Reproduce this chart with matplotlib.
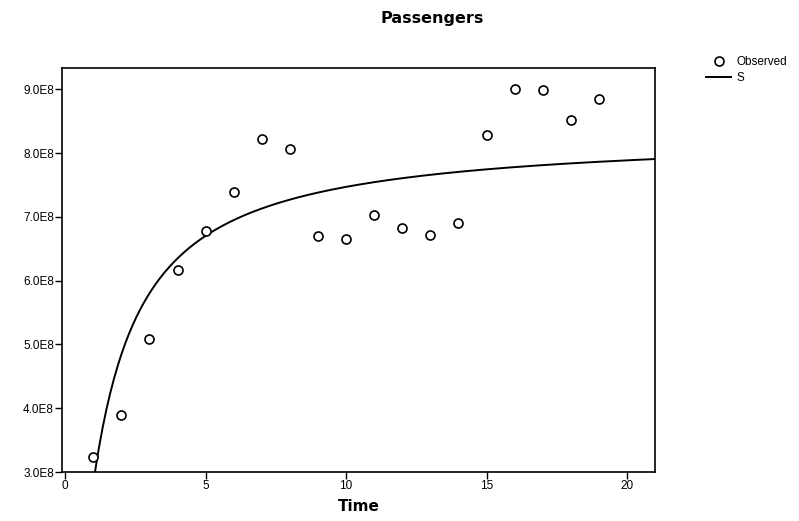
import numpy as np
import matplotlib.pyplot as plt
from matplotlib.ticker import FuncFormatter

plt.rcParams['font.family'] = ['Liberation Sans', 'DejaVu Sans']

# observed passengers per year (Time = 1..19)
time = [1, 2, 3, 4, 5, 6, 7, 8, 9, 10, 11, 12, 13, 14, 15, 16, 17, 18, 19]
passengers = [3.23e8, 3.90e8, 5.08e8, 6.16e8, 6.78e8, 7.39e8, 8.22e8, 8.06e8,
              6.70e8, 6.66e8, 7.03e8, 6.83e8, 6.71e8, 6.91e8, 8.28e8, 9.01e8,
              8.99e8, 8.52e8, 8.85e8]

# S model fit: ln(y) = b0 + b1 / t
t = np.array(time, dtype=float)
b1, b0 = np.polyfit(1 / t, np.log(passengers), 1)
tt = np.linspace(1.0, 21.0, 300)
fit = np.exp(b0 + b1 / tt)

fig = plt.figure(figsize=(7.99, 5.21), dpi=100)
ax = fig.add_axes([0.078, 0.094, 0.742, 0.775])

ax.plot(tt, fit, color='black', lw=1.4, label='S')
ax.plot(time, passengers, 'o', mfc='white', mec='black', mew=1.2, ms=6.5,
        ls='none', label='Observed')

ax.set_xlim(-0.1, 21.0)
ax.set_ylim(3.0e8, 9.33e8)
ax.set_xticks([0, 5, 10, 15, 20])
ax.set_yticks([3e8, 4e8, 5e8, 6e8, 7e8, 8e8, 9e8])
ax.yaxis.set_major_formatter(FuncFormatter(lambda v, p: '%.1fE8' % (v / 1e8)))
ax.tick_params(direction='out', length=5, width=1, labelsize=8.5, pad=1)
for s in ax.spines.values():
    s.set_linewidth(1.2)

ax.set_xlabel('Time', fontsize=11, fontweight='bold', family='DejaVu Sans',
              labelpad=5)
fig.text(432 / 799, 1 - 18 / 521, 'Passengers', ha='center', va='center',
         fontsize=11.5, fontweight='bold', family='DejaVu Sans')

h, l = ax.get_legend_handles_labels()
fig.legend(h[::-1], l[::-1], loc='upper left', bbox_to_anchor=(0.883, 0.893),
           frameon=False, fontsize=8.5, handlelength=2.2, handletextpad=0.4,
           labelspacing=0.4, borderaxespad=0, borderpad=0)

fig.savefig('out.png', dpi=100)
